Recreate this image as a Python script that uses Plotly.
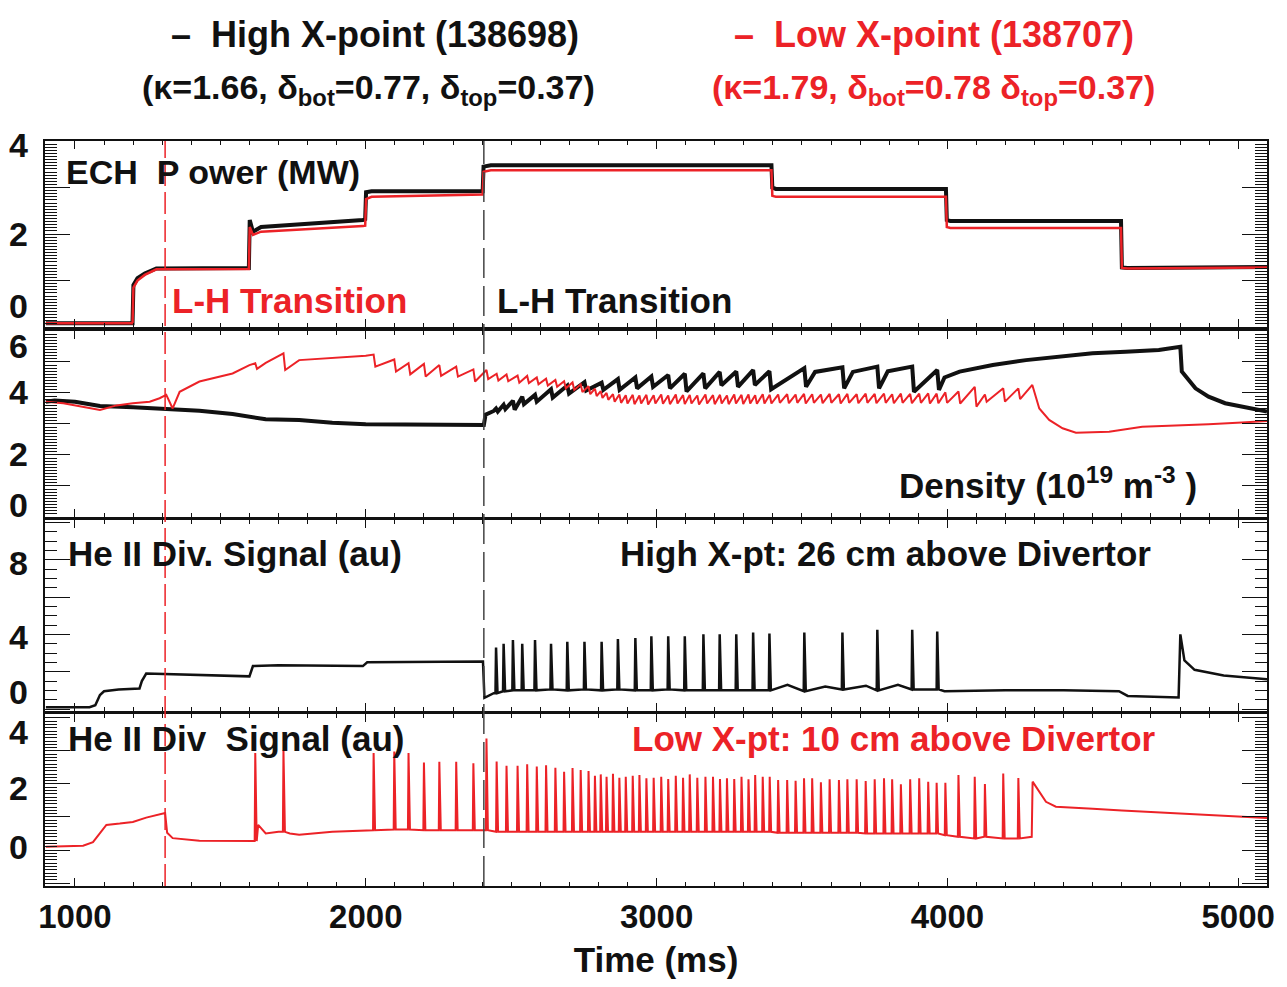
import plotly.graph_objects as go

FONT = "Liberation Sans, Arial, sans-serif"
BLACK = "#111111"
RED = "#ec2227"

# ---------------- Panel 1 : ECH power (MW) ----------------
ech_hi_t = [900, 1198, 1201, 1215, 1240, 1280, 1598, 1601, 1612, 1640, 1990, 1998, 2001, 2020, 2402,
            2405, 2430, 3395, 3398, 3410, 3995, 3998, 4010, 4597, 4600, 4620, 5100]
ech_hi_v = [0.08, 0.08, 0.9, 1.05, 1.15, 1.26, 1.27, 2.3, 2.05, 2.15, 2.3, 2.32, 2.9, 2.92, 2.92,
            3.45, 3.48, 3.48, 3.0, 2.97, 2.97, 2.3, 2.28, 2.28, 1.28, 1.27, 1.29]
ech_lo_t = ech_hi_t
ech_lo_v = [0.08, 0.08, 0.85, 1.0, 1.12, 1.24, 1.25, 2.15, 1.98, 2.05, 2.17, 2.18, 2.75, 2.8, 2.85,
            3.34, 3.37, 3.37, 2.82, 2.8, 2.8, 2.15, 2.13, 2.13, 1.27, 1.26, 1.28]

# ---------------- ELM times (from divertor He II spikes) ----------------
hx_elm_t = [2448, 2474, 2506, 2538, 2582, 2637, 2693, 2752, 2811, 2867, 2927, 2982, 3040, 3097,
            3161, 3217, 3274, 3332, 3388, 3508, 3639, 3759, 3879, 3965]
hx_elm_peak = [3.3, 3.5, 3.7, 3.5, 3.7, 3.5, 3.6, 3.6, 3.6, 3.75, 3.8, 3.9, 3.9, 3.9,
               4.0, 4.0, 4.0, 4.1, 4.05, 4.1, 4.1, 4.25, 4.25, 4.15]
hx_he_level = [0.85, 0.95, 1.0, 1.0, 1.0, 1.05, 1.0, 1.05, 1.0, 1.05, 1.0, 1.0, 1.05, 1.0,
               1.0, 1.0, 1.0, 1.0, 1.0, 0.95, 1.05, 1.0, 1.05, 1.05]
hx_dens_pre = [3.5, 3.62, 3.75, 3.88, 3.94, 4.12, 4.24, 4.35, 4.33, 4.45, 4.5, 4.53, 4.58, 4.62,
               4.63, 4.68, 4.69, 4.74, 4.7, 4.8, 4.83, 4.85, 4.85, 4.74]
hx_dens_post = [3.4, 3.48, 3.46, 3.64, 3.72, 3.85, 3.98, 4.08, 4.1, 4.1, 4.15, 4.2, 4.15, 4.05,
                4.15, 4.25, 4.2, 4.26, 4.12, 4.2, 4.15, 4.15, 4.04, 4.1]

lx_elm_t = [1620, 1717, 2027, 2098, 2147, 2200, 2253, 2311, 2370, 2415,
            2450, 2484, 2522, 2555, 2588, 2620, 2652, 2682, 2711, 2739,
            2766, 2788, 2808, 2828, 2850, 2872, 2894, 2918, 2941, 2965,
            2990, 3016, 3040, 3066, 3091, 3114, 3140, 3168, 3194, 3218,
            3242, 3267, 3292, 3316, 3339, 3365, 3389, 3418, 3449, 3478,
            3507, 3535, 3565, 3595, 3627, 3656, 3688, 3719, 3750, 3782,
            3810, 3840, 3872, 3903, 3934, 3963, 3993, 4038, 4094, 4129,
            4192, 4244]
lx_elm_peak = [2.94, 3.03, 2.94, 2.98, 2.94, 2.65, 2.67, 2.67, 2.63, 3.38,
               2.68, 2.55, 2.55, 2.6, 2.53, 2.57, 2.49, 2.37, 2.48, 2.42,
               2.39, 2.25, 2.29, 2.22, 2.31, 2.19, 2.22, 2.25, 2.27, 2.17,
               2.19, 2.22, 2.15, 2.25, 2.19, 2.29, 2.19, 2.22, 2.22, 2.15,
               2.17, 2.15, 2.22, 2.14, 2.27, 2.22, 2.22, 2.12, 2.12, 2.1,
               2.17, 2.17, 2.05, 2.14, 2.12, 2.14, 2.14, 2.09, 2.14, 2.17,
               2.14, 1.99, 2.14, 2.17, 2.07, 2.04, 2.04, 2.27, 2.22, 2.0,
               2.32, 2.18]
lx_he_level = [0.27, 0.55, 0.6, 0.62, 0.62, 0.6, 0.6, 0.6, 0.6, 0.6,
               0.55, 0.55, 0.55, 0.55, 0.55, 0.55, 0.55, 0.55, 0.55, 0.55,
               0.55, 0.55, 0.55, 0.55, 0.55, 0.55, 0.55, 0.55, 0.55, 0.55,
               0.55, 0.55, 0.55, 0.55, 0.55, 0.55, 0.55, 0.55, 0.55, 0.55,
               0.55, 0.55, 0.55, 0.55, 0.55, 0.55, 0.55, 0.52, 0.52, 0.52,
               0.52, 0.52, 0.52, 0.52, 0.52, 0.52, 0.52, 0.5, 0.5, 0.5,
               0.5, 0.5, 0.5, 0.5, 0.5, 0.5, 0.45, 0.4, 0.35, 0.4,
               0.35, 0.35]
lx_dens_pre = [4.96, 5.28, 5.24, 5.08, 4.96, 4.94, 4.9, 4.85, 4.76, 4.74,
               4.62, 4.6, 4.56, 4.55, 4.5, 4.46, 4.42, 4.38, 4.34, 4.28,
               4.22, 4.14, 4.06, 4.0, 3.96, 3.95, 3.93, 3.94, 3.92, 3.94,
               3.93, 3.95, 3.92, 3.95, 3.93, 3.94, 3.92, 3.95, 3.93, 3.94,
               3.92, 3.95, 3.94, 3.95, 3.93, 3.96, 3.94, 3.95, 3.96, 3.95,
               3.97, 3.96, 3.95, 3.97, 3.96, 3.97, 3.96, 3.98, 3.97, 3.98,
               3.96, 3.98, 3.97, 3.98, 3.99, 3.98, 4.02, 4.05, 4.2, 3.95,
               4.15, 4.15]
lx_dens_post = [4.78, 4.74, 4.85, 4.69, 4.6, 4.53, 4.55, 4.53, 4.37, 4.45,
                4.4, 4.38, 4.33, 4.32, 4.28, 4.24, 4.2, 4.15, 4.1, 4.03,
                3.96, 3.9, 3.84, 3.78, 3.72, 3.68, 3.66, 3.64, 3.66, 3.63,
                3.66, 3.65, 3.64, 3.66, 3.64, 3.66, 3.63, 3.66, 3.64, 3.66,
                3.64, 3.66, 3.64, 3.66, 3.65, 3.66, 3.66, 3.68, 3.67, 3.68,
                3.66, 3.68, 3.67, 3.68, 3.66, 3.68, 3.67, 3.68, 3.67, 3.68,
                3.67, 3.68, 3.67, 3.68, 3.66, 3.67, 3.68, 3.66, 3.56, 3.72,
                3.72, 3.8]

# ---------------- Panel 2 : density, non-ELM knots ----------------
hx_dens_t = [900, 930, 1000, 1086, 1200, 1314, 1428, 1542, 1656, 1771, 1885, 2000, 2113, 2227, 2400,
             2406, 2412, 2440, 3545, 3675, 3795, 3990, 4042, 4156, 4270, 4384, 4499, 4613, 4727,
             4801, 4806, 4853, 4898, 4955, 5013, 5099]
hx_dens_v = [3.72, 3.76, 3.72, 3.58, 3.54, 3.47, 3.43, 3.32, 3.15, 3.13, 3.04, 2.99, 2.99, 2.99, 2.97,
             2.97, 3.3, 3.42, 4.68, 4.68, 4.7, 4.5, 4.69, 4.9, 5.06, 5.17, 5.28, 5.33, 5.39,
             5.49, 4.69, 4.15, 3.88, 3.67, 3.56, 3.4]
lx_dens_t = [900, 960, 1086, 1143, 1199, 1257, 1291, 1314, 1336, 1360, 1428, 1542, 1600, 1656,
             1771, 1885, 2000, 4292, 4316, 4350, 4396, 4442, 4556, 4670, 4784, 4898, 5013, 5099]
lx_dens_v = [3.72, 3.67, 3.45, 3.6, 3.67, 3.72, 3.83, 3.94, 3.5, 4.04, 4.37, 4.63, 4.9, 4.97,
             5.06, 5.12, 5.2, 4.26, 3.5, 3.13, 2.86, 2.72, 2.75, 2.91, 2.94, 2.99, 3.05, 3.1]

# ---------------- Panel 3 / 4 : He II divertor, non-ELM knots ----------------
hx_he_t = [900, 1050, 1070, 1086, 1100, 1150, 1222, 1230, 1245, 1400, 1600, 1612, 1700, 1990, 2005,
           2403, 2408, 2440, 3450, 3580, 3720, 3830, 3990, 4200, 4400, 4590, 4620, 4795, 4801,
           4815, 4850, 4950, 5099]
hx_he_v = [0.1, 0.1, 0.2, 0.75, 0.95, 1.05, 1.1, 1.5, 1.9, 1.85, 1.75, 2.3, 2.35, 2.3, 2.5,
           2.55, 0.6, 0.85, 1.3, 1.2, 1.25, 1.3, 0.95, 1.0, 1.0, 0.95, 0.7, 0.62, 4.0,
           2.6, 2.1, 1.8, 1.6]
lx_he_t = [900, 1028, 1062, 1108, 1154, 1199, 1245, 1291, 1310, 1317, 1336, 1428, 1600, 1630,
           1656, 1700, 1739, 1771, 1885, 2000, 4280, 4290, 4293, 4339, 4373, 4400, 4500, 4600,
           4700, 4800, 4900, 5000, 5099]
lx_he_v = [0.1, 0.13, 0.24, 0.76, 0.8, 0.85, 0.98, 1.08, 1.12, 0.52, 0.36, 0.28, 0.27, 0.76,
           0.5, 0.55, 0.5, 0.46, 0.55, 0.6, 0.4, 0.4, 2.07, 1.46, 1.31, 1.3, 1.25, 1.2,
           1.15, 1.1, 1.05, 1.0, 0.97]

# ---------------- axes / labels ----------------
x_range = [897, 5099]
x_tickvals = [1000, 2000, 3000, 4000, 5000]
x_ticktext = ["1000", "2000", "3000", "4000", "5000"]
lh_low_t = 1310
lh_high_t = 2406

y_ranges = [[0, 4], [0, 6], [-0.107, 10.13], [-1.09, 4.12]]
y_major = [[0, 1, 2, 3, 4], [0, 1, 2, 3, 4, 5, 6], [0, 2, 4, 6, 8, 10], [-1, 0, 1, 2, 3, 4]]
y_minor_dt = [1 / 15, 0.1, 0.5, 0.1]
y_lab_vals = [[0, 2, 4], [0, 2, 4, 6], [0, 4, 8], [0, 2, 4]]
y_lab_shift = [[21, 0, -4], [12, 1, 1, -15], [17, -3, -3], [3, -4, -14]]
domains = [[0.7503, 1.0], [0.4953, 0.7450], [0.2349, 0.4913], [0.0, 0.2309]]


def spikes(knot_t, knot_v, ev_t, level, peak):
    pts = list(zip(knot_t, knot_v))
    for t, a, b in zip(ev_t, level, peak):
        pts += [(t - 2, a), (t, b), (t + 5, a)]
    pts.sort()
    return [p[0] for p in pts], [p[1] for p in pts]


def sawtooth(knot_t, knot_v, ev_t, pre, post):
    pts = list(zip(knot_t, knot_v))
    for t, a, b in zip(ev_t, pre, post):
        pts += [(t, a), (t + 6, b)]
    pts.sort()
    return [p[0] for p in pts], [p[1] for p in pts]


fig = go.Figure()

# panel 1
fig.add_trace(go.Scatter(x=ech_hi_t, y=ech_hi_v, mode="lines", line=dict(color=BLACK, width=4),
                         xaxis="x", yaxis="y", showlegend=False))
fig.add_trace(go.Scatter(x=ech_lo_t, y=ech_lo_v, mode="lines", line=dict(color=RED, width=2.5),
                         xaxis="x", yaxis="y", showlegend=False))
# panel 2
tx, vy = sawtooth(hx_dens_t, hx_dens_v, hx_elm_t, hx_dens_pre, hx_dens_post)
fig.add_trace(go.Scatter(x=tx, y=vy, mode="lines", line=dict(color=BLACK, width=4),
                         xaxis="x2", yaxis="y2", showlegend=False))
tx, vy = sawtooth(lx_dens_t, lx_dens_v, lx_elm_t, lx_dens_pre, lx_dens_post)
fig.add_trace(go.Scatter(x=tx, y=vy, mode="lines", line=dict(color=RED, width=2),
                         xaxis="x2", yaxis="y2", showlegend=False))
# panel 3
tx, vy = spikes(hx_he_t, hx_he_v, hx_elm_t, hx_he_level, hx_elm_peak)
fig.add_trace(go.Scatter(x=tx, y=vy, mode="lines", line=dict(color=BLACK, width=2.5),
                         xaxis="x3", yaxis="y3", showlegend=False))
# panel 4
tx, vy = spikes(lx_he_t, lx_he_v, lx_elm_t, lx_he_level, lx_elm_peak)
fig.add_trace(go.Scatter(x=tx, y=vy, mode="lines", line=dict(color=RED, width=2),
                         xaxis="x4", yaxis="y4", showlegend=False))

layout = dict(
    width=1287, height=987,
    margin=dict(l=45, r=15, t=141, b=101),
    paper_bgcolor="white", plot_bgcolor="white",
    font=dict(family=FONT, color=BLACK),
)
for i in range(4):
    sx = "" if i == 0 else str(i + 1)
    layout["xaxis" + sx] = dict(
        domain=[0, 1], range=x_range, anchor="y" + sx, matches=None if i == 0 else "x",
        showline=True, linewidth=2, linecolor=BLACK, mirror="allticks",
        ticks="inside", tickvals=x_tickvals, ticktext=x_ticktext, ticklen=8, tickwidth=1.2,
        tickcolor=BLACK,
        minor=dict(ticks="inside", dtick=100, tick0=0, ticklen=4, tickwidth=1, tickcolor=BLACK),
        showgrid=False, zeroline=False, showticklabels=(i == 3),
        tickfont=dict(family=FONT, size=33, color=BLACK, weight="bold"),
    )
    layout["yaxis" + sx] = dict(
        domain=domains[i], range=y_ranges[i], anchor="x" + sx,
        showline=True, linewidth=2, linecolor=BLACK, mirror="allticks",
        ticks="inside", tickvals=y_major[i], ticklen=25, tickwidth=1.2, tickcolor=BLACK,
        minor=dict(ticks="inside", dtick=y_minor_dt[i], tick0=0, ticklen=12, tickwidth=1,
                   tickcolor=BLACK),
        showgrid=False, zeroline=False, showticklabels=False,
    )
layout["xaxis4"]["title"] = dict(text="Time (ms)", standoff=14,
                                 font=dict(family=FONT, size=35, color=BLACK, weight="bold"))
fig.update_layout(**layout)

# y tick labels (shifted at the edges like the original)
for i in range(4):
    sy = "y" if i == 0 else "y" + str(i + 1)
    for v, sh in zip(y_lab_vals[i], y_lab_shift[i]):
        fig.add_annotation(x=-0.012, xref="paper", y=v, yref=sy, yshift=sh, text=str(v),
                           showarrow=False, xanchor="right", yanchor="middle",
                           font=dict(family=FONT, size=34, color=BLACK, weight="bold"))

# L-H transition markers
fig.add_shape(type="line", xref="x", yref="paper", x0=lh_low_t, x1=lh_low_t, y0=0, y1=1,
              line=dict(color=RED, width=1.5, dash="22px,6px"))
fig.add_shape(type="line", xref="x", yref="paper", x0=lh_high_t, x1=lh_high_t, y0=0, y1=1,
              line=dict(color="#444444", width=1.5, dash="30px,8px"))


def ptext(txt, X, Y, color=BLACK, size=36, anchor="left"):
    fig.add_annotation(x=(X - 45) / 1227, y=(886 - Y) / 745, xref="paper", yref="paper",
                       text=txt, showarrow=False, xanchor=anchor, yanchor="middle",
                       font=dict(family=FONT, size=size, color=color, weight="bold"))


ptext("–  High X-point (138698)", 376, 35, BLACK, 36, "center")
ptext("–  Low X-point (138707)", 938, 35, RED, 36, "center")
ptext("(κ=1.66, δ<sub>bot</sub>=0.77, δ<sub>top</sub>=0.37)", 370, 90, BLACK, 34, "center")
ptext("(κ=1.79, δ<sub>bot</sub>=0.78 δ<sub>top</sub>=0.37)", 937, 90, RED, 34, "center")
ptext("ECH  P ower (MW)", 64, 172, BLACK, 34)
ptext("L-H Transition", 171, 300, RED, 35)
ptext("L-H Transition", 497, 300, BLACK, 35)
ptext("Density (10<sup>19</sup> m<sup>-3</sup> )", 900, 483, BLACK, 35)
ptext("He II Div. Signal (au)", 66, 553, BLACK, 35)
ptext("High X-pt: 26 cm above Divertor", 620, 553, BLACK, 35)
ptext("He II Div  Signal (au)", 66, 738, BLACK, 35)
ptext("Low X-pt: 10 cm above Divertor", 632, 738, RED, 35)

fig.write_html("out.html")
